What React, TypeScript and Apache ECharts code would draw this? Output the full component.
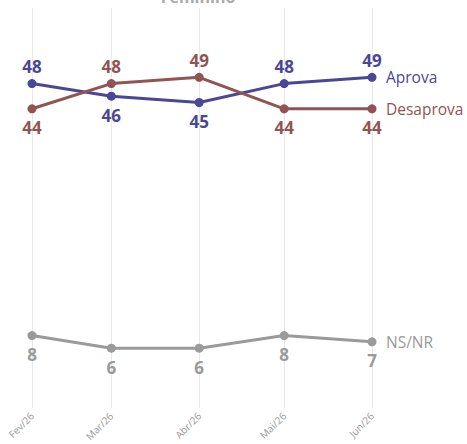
import React, { useEffect, useRef } from "react";
import * as echarts from "echarts";

const categories = ["Fev/26", "Mar/26", "Abr/26", "Mai/26", "Jun/26"];
const dates = ["2026-02-01", "2026-03-01", "2026-04-01", "2026-05-01", "2026-06-01"];
const aprova = [48, 46, 45, 48, 49];
const desaprova = [44, 48, 49, 44, 44];
const nsnr = [8, 6, 6, 8, 7];
const aprovaLabelPos = ["top", "bottom", "bottom", "top", "top"];
const desaprovaLabelPos = ["bottom", "top", "top", "bottom", "bottom"];
const nsnrLabelPos = ["bottom", "bottom", "bottom", "bottom", "bottom"];

const FONT = "Open Sans";

function toTime(s: string) {
  const [y, m, d] = s.split("-").map(Number);
  return new Date(y, m - 1, d).getTime();
}
const times = dates.map(toTime);

function labelFor(value: number) {
  const dv = new Date(value);
  for (let i = 0; i < times.length; i++) {
    const t = new Date(times[i]);
    if (t.getFullYear() === dv.getFullYear() && t.getMonth() === dv.getMonth() && dv.getDate() === 1) {
      return categories[i];
    }
  }
  return "";
}

function makeSeries(name: string, values: number[], positions: string[], color: string) {
  return {
    name,
    type: "line",
    z: 3,
    data: values.map((v, i) => ({
      value: [times[i], v],
      label: { position: positions[i], distance: positions[i] === "top" ? 4 : 6 },
    })),
    symbol: "circle",
    symbolSize: 9,
    lineStyle: { width: 3, color },
    itemStyle: { color },
    label: {
      show: true,
      color,
      fontSize: 17,
      fontWeight: "bold",
      fontFamily: FONT,
      formatter: (p: any) => String(p.value[1]),
    },
    endLabel: {
      show: true,
      formatter: "{a}",
      color,
      fontSize: 15.5,
      fontFamily: FONT,
      distance: 14,
    },
    emphasis: { disabled: true },
  };
}

export default function App() {
  const ref = useRef<HTMLDivElement>(null);
  useEffect(() => {
    if (!ref.current) return;
    const chart = echarts.init(ref.current, null, { renderer: "svg" });
    chart.setOption({
      animation: false,
      backgroundColor: "#ffffff",
      graphic: [
        {
          type: "text",
          x: 198,
          y: -11,
          style: {
            text: "Feminino",
            fill: "#aaaaaa",
            font: `bold 16px ${FONT}`,
            textAlign: "center",
          },
        },
      ],
      grid: { left: 32, right: 95, top: 8, bottom: 36, containLabel: false },
      xAxis: {
        type: "time",
        min: times[0],
        max: times[times.length - 1],
        minInterval: 28 * 86400000,
        maxInterval: 31 * 86400000,
        axisLine: { show: false },
        axisTick: { show: false },
        splitLine: { show: true, lineStyle: { color: "#e8e8e8", width: 1 } },
        axisLabel: {
          rotate: 45,
          color: "#999999",
          fontSize: 10,
          fontFamily: FONT,
          margin: 6,
          showMinLabel: true,
          showMaxLabel: true,
          hideOverlap: false,
          formatter: (v: number) => labelFor(v),
        },
      },
      yAxis: {
        type: "value",
        min: -3.5,
        max: 60,
        show: false,
        splitLine: { show: false },
      },
      series: [
        makeSeries("Aprova", aprova, aprovaLabelPos, "#4b4796"),
        makeSeries("Desaprova", desaprova, desaprovaLabelPos, "#915453"),
        makeSeries("NS/NR", nsnr, nsnrLabelPos, "#9a9a9a"),
      ],
    });
    return () => chart.dispose();
  }, []);
  return (
    <div
      ref={ref}
      style={{ position: "fixed", left: 0, top: 0, width: 467, height: 444 }}
    />
  );
}
